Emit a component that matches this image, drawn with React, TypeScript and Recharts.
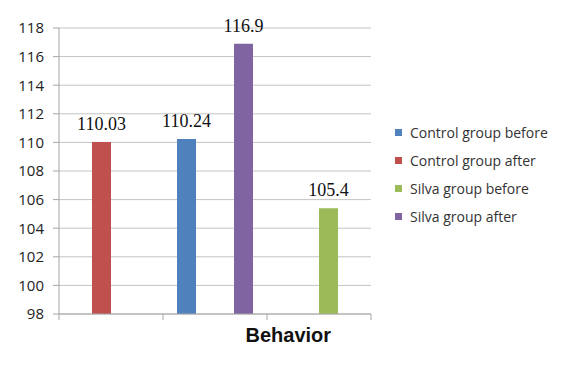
import { BarChart, Bar, XAxis, YAxis, CartesianGrid, Legend, LabelList } from "recharts"

const categories = ["A", "B", "C"]
const controlBefore = [null, 110.24, null]
const controlAfter = [110.03, null, null]
const silvaBefore = [null, null, 105.4]
const silvaAfter = [null, 116.9, null]
const yTicks = [98, 100, 102, 104, 106, 108, 110, 112, 114, 116, 118]

const series = [
  { key: "controlBefore", name: "Control group before", color: "#4f81bd" },
  { key: "controlAfter", name: "Control group after", color: "#c0504d" },
  { key: "silvaBefore", name: "Silva group before", color: "#9bbb59" },
  { key: "silvaAfter", name: "Silva group after", color: "#8064a2" },
]

const data = categories.map((cat, i) => ({
  cat,
  controlBefore: controlBefore[i],
  controlAfter: controlAfter[i],
  silvaBefore: silvaBefore[i],
  silvaAfter: silvaAfter[i],
}))

const sans = "'Open Sans', Lato, sans-serif"

function ValueLabel({ x, y, width, value }: any) {
  if (value == null) return null
  return (
    <text x={x + width / 2} y={y - 12} textAnchor="middle" fontFamily="'Liberation Serif', serif" fontSize={18} fill="#111">
      {value}
    </text>
  )
}

// excel style: tick marks sit between the categories, not under them
function EdgeTick({ x, y, payload, index }: any) {
  const half = payload?.offset ?? 52
  const last = index === categories.length - 1
  return (
    <g>
      <line x1={x - half} x2={x - half} y1={y} y2={y + 6} stroke="#a6a6a6" />
      {last && <line x1={x + half} x2={x + half} y1={y} y2={y + 6} stroke="#a6a6a6" />}
    </g>
  )
}

function SideLegend() {
  return (
    <div style={{ fontFamily: sans, fontSize: 14, color: "#333" }}>
      {series.map((s) => (
        <div key={s.key} style={{ display: "flex", alignItems: "center", height: 28 }}>
          <span style={{ width: 7, height: 7, background: s.color, marginRight: 8 }} />
          <span>{s.name}</span>
        </div>
      ))}
    </div>
  )
}

function AxisTitle({ viewBox }: any) {
  const { x, y, width } = viewBox
  return (
    <text x={x + width * 0.735} y={y + 28} textAnchor="middle" fontFamily="'Liberation Sans', Arial, sans-serif" fontWeight="bold" fontSize={20} fill="#111">
      Behavior
    </text>
  )
}

export default function App() {
  return (
    <div style={{ position: "absolute", left: 0, top: 0, background: "#fff" }}>
      <BarChart
        width={576}
        height={377}
        data={data}
        barGap={0}
        barSize={19}
        margin={{ top: 28, right: 25, left: 0, bottom: 33 }}
      >
        <CartesianGrid vertical={false} stroke="#c4c4c4" />
        <XAxis
          dataKey="cat"
          stroke="#a6a6a6"
          tickLine={false}
          tickSize={0}
          tickMargin={0}
          tick={<EdgeTick />}
          interval={0}
          height={30}
          label={<AxisTitle />}
        />
        <YAxis
          domain={[98, 118]}
          ticks={yTicks}
          width={59}
          stroke="#a6a6a6"
          tickSize={6}
          tickMargin={9}
          interval={0}
          tick={{ fill: "#222", fontFamily: sans, fontSize: 15 }}
        />
        <Legend
          layout="vertical"
          align="right"
          verticalAlign="middle"
          width={180}
          content={<SideLegend />}
          wrapperStyle={{ left: 395, top: 118, width: 180 }}
        />
        {series.map((s) => (
          <Bar key={s.key} dataKey={s.key} name={s.name} fill={s.color} isAnimationActive={false}>
            <LabelList dataKey={s.key} content={<ValueLabel />} />
          </Bar>
        ))}
      </BarChart>
    </div>
  )
}
